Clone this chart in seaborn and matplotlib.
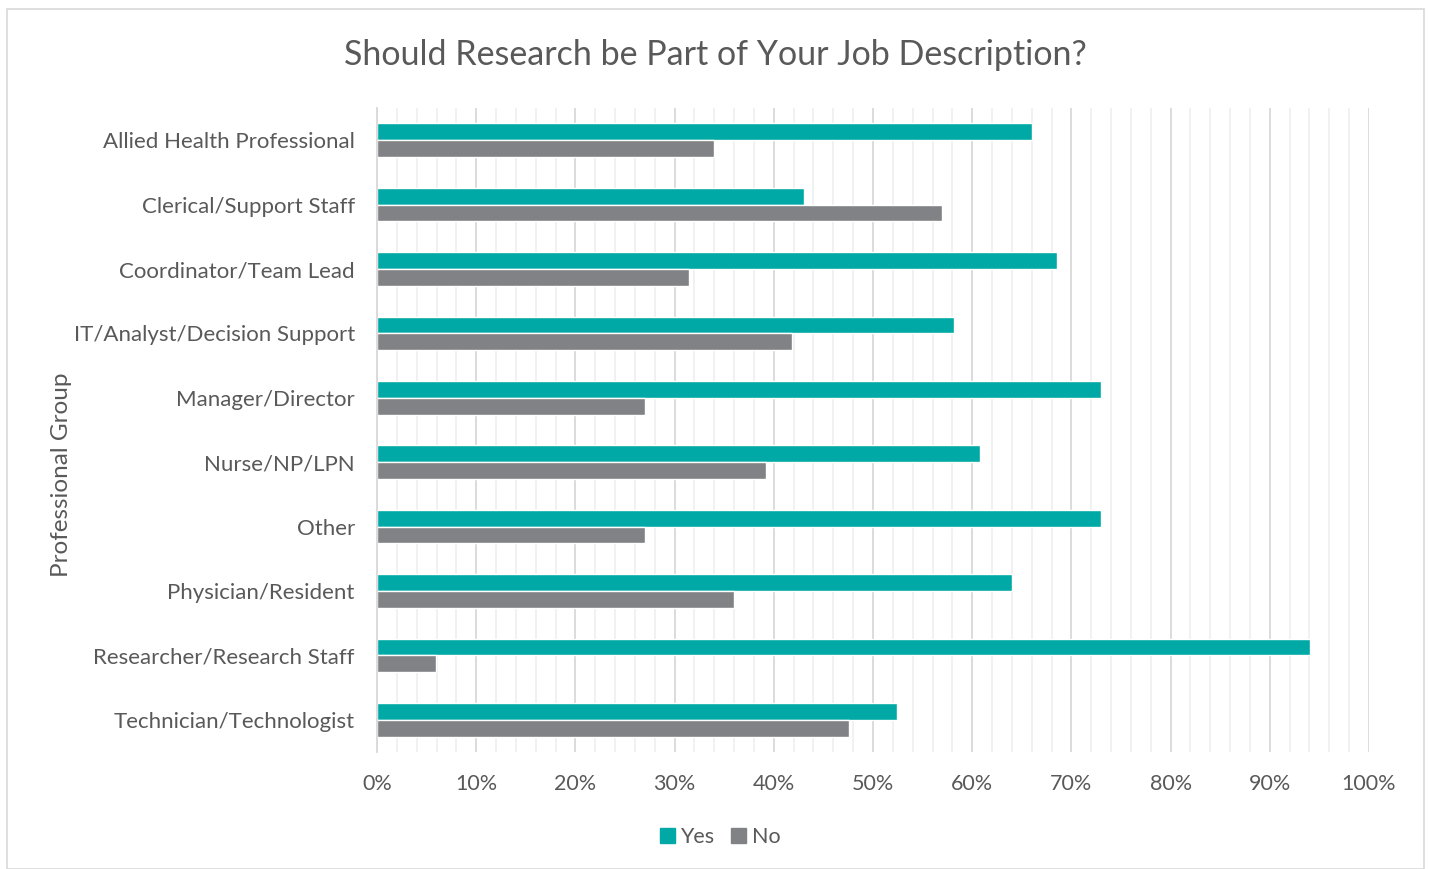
import numpy as np
import pandas as pd
import matplotlib
matplotlib.use('Agg')
import matplotlib.pyplot as plt
from matplotlib.patches import Rectangle
from matplotlib.ticker import MultipleLocator, PercentFormatter
import seaborn as sns

# Data (percent)
groups = ['Allied Health Professional', 'Clerical/Support Staff', 'Coordinator/Team Lead',
          'IT/Analyst/Decision Support', 'Manager/Director', 'Nurse/NP/LPN', 'Other',
          'Physician/Resident', 'Researcher/Research Staff', 'Technician/Technologist']
yes = [66.0, 43.0, 68.5, 58.2, 73.0, 60.8, 73.0, 64.0, 94.1, 52.4]
no = [34.0, 57.0, 31.5, 41.8, 27.0, 39.2, 27.0, 36.0, 5.9, 47.6]
answers = ['Yes', 'No']
colors = ['#00A9A5', '#808285']

df = pd.DataFrame({'group': groups * 2,
                   'answer': ['Yes'] * len(groups) + ['No'] * len(groups),
                   'pct': yes + no})

sns.set_style('white')
plt.rcParams['font.family'] = ['Lato', 'DejaVu Sans']
txt = '#595959'

fig = plt.figure(figsize=(14.29, 8.69), dpi=100)
ax = fig.add_axes([377/1429, 1-752/869, 992/1429, 644/869])

sns.barplot(data=df, x='pct', y='group', hue='answer', hue_order=answers,
            palette=colors, orient='h', width=0.52, ax=ax, saturation=1,
            errorbar=None, legend=False)

ax.set_xlim(0, 100)
ax.xaxis.set_major_locator(MultipleLocator(10))
ax.xaxis.set_minor_locator(MultipleLocator(2))
ax.xaxis.set_major_formatter(PercentFormatter(decimals=0))
ax.grid(axis='x', which='major', color='#D9D9D9', linewidth=1.3)
ax.grid(axis='x', which='minor', color='#EFEFEF', linewidth=1.2)
ax.grid(axis='y', visible=False)
ax.set_axisbelow(True)
for s in ['top', 'right', 'bottom']:
    ax.spines[s].set_visible(False)
ax.spines['left'].set_color('#D9D9D9')
ax.spines['left'].set_linewidth(1.3)
ax.tick_params(axis='both', which='both', length=0, colors=txt)
ax.tick_params(axis='y', pad=16, labelsize=16)
ax.tick_params(axis='x', pad=16, labelsize=15.5)
ax.set_xlabel('')
ax.set_ylabel('')

fig.text(62/1429, 1-475/869, 'Professional Group', rotation=90, ha='center', va='center',
         fontsize=17.5, color=txt)
fig.text(715/1429, 1-55/869, 'Should Research be Part of Your Job Description?',
         ha='center', va='center', fontsize=24.5, color=txt)

handles = [Rectangle((0, 0), 1, 1, color=c) for c in colors]
fig.legend(handles, answers, loc='center', bbox_to_anchor=(720/1429, 1-837/869), ncol=2,
           frameon=False, fontsize=15.5, labelcolor=txt, handlelength=0.7, handleheight=0.7,
           handletextpad=0.25, columnspacing=0.8)

fig.patches.append(Rectangle((7/1429, 0), 1417/1429, 1-9/869, transform=fig.transFigure,
                             fill=False, edgecolor='#D9D9D9', linewidth=1.2))

fig.savefig('out.png', dpi=100)
